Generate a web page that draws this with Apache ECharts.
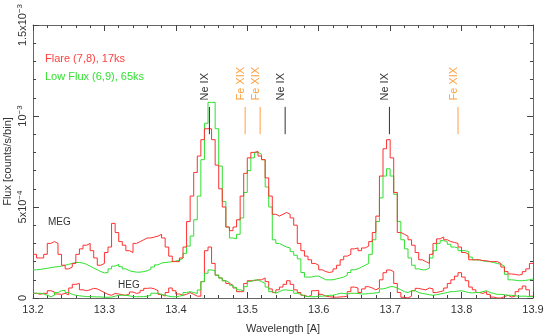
<!DOCTYPE html>
<html>
<head>
<meta charset="utf-8">
<script src="https://cdn.jsdelivr.net/npm/echarts@6/dist/echarts.min.js"></script>
<style>html,body{margin:0;padding:0;background:#fff}#c{width:545px;height:334px}</style>
</head>
<body>
<div id="c"></div>
<script>
// Wavelength grid (Angstrom): first bin start and bin width
const binStart = 13.2;
const binWidth = 0.005;
// Flux values in units of 1e-4 counts/s/bin
const megFlare = [2.4,2.2,2.2,2.4,3.0,3.1,3.0,2.4,1.8,1.6,1.7,1.9,2.4,2.7,2.9,3.0,2.6,2.2,1.8,1.9,
2.5,2.8,4.1,3.6,3.1,2.9,2.6,2.5,3.0,3.1,3.2,3.3,3.3,3.35,3.4,3.5,3.3,2.8,2.3,2.0,
2.0,2.2,2.8,4.2,5.6,6.9,7.8,8.7,9.3,9.3,8.7,7.3,6.0,5.0,3.9,3.7,3.9,4.3,5.6,6.85,
7.7,8.0,8.05,7.8,7.6,6.6,5.6,4.6,4.5,4.6,4.7,4.6,4.4,4.0,3.0,2.6,2.3,2.1,1.9,1.8,
1.55,1.45,1.4,1.45,1.6,1.8,2.1,2.3,2.4,2.7,2.75,2.6,2.75,2.85,3.1,3.6,4.5,6.7,8.2,8.7,
7.7,5.8,3.6,3.5,3.4,3.2,2.9,2.5,2.1,2.0,1.9,2.4,3.0,3.25,3.35,3.2,3.1,3.05,3.0,2.8,
2.5,2.4,2.1,2.1,2.1,2.05,2.05,2.0,2.0,2.0,1.9,1.7,1.45,1.32,1.3,1.26,1.3,1.45,1.6,1.9];
const megLow = [1.55,1.57,1.6,1.63,1.67,1.7,1.72,1.75,1.8,1.85,1.9,1.95,1.95,1.92,1.85,1.75,1.65,1.55,1.45,1.38,
1.4,1.6,1.75,1.85,1.72,1.6,1.5,1.45,1.42,1.42,1.45,1.5,1.58,1.7,1.82,1.92,1.95,1.97,2.0,2.03,
2.08,2.18,2.45,2.85,3.4,4.3,5.6,7.6,9.6,10.75,10.75,9.3,7.25,5.3,3.9,3.3,3.25,3.5,4.4,5.8,
7.0,7.7,8.0,7.9,7.6,6.1,5.0,3.2,3.0,2.9,2.8,2.75,2.55,2.35,2.15,1.4,1.15,1.15,1.2,1.2,
1.1,1.0,1.0,1.0,1.05,1.1,1.15,1.25,1.4,1.55,1.6,1.7,1.8,1.9,2.4,3.2,4.2,5.5,6.7,7.1,
6.7,5.7,4.2,3.2,2.7,2.2,1.8,1.6,1.55,1.55,1.65,2.2,2.6,3.0,3.15,3.1,2.95,2.8,2.75,2.6,
2.6,2.55,2.25,2.1,2.08,2.05,2.0,2.0,1.95,1.9,1.85,1.75,1.3,1.0,0.98,0.95,0.95,0.97,1.0,1.05];
const hegFlare = [0.26,0.2,0.26,0.25,0.4,0.33,0.22,0.2,0.25,0.18,0.55,0.75,0.8,0.45,0.4,0.45,0.53,0.5,0.4,0.3,
0.2,0.15,0.25,0.22,0.18,0.15,0.22,0.33,0.25,0.3,0.42,0.53,0.55,0.5,0.4,0.2,0.1,0.3,0.55,0.4,
0.22,0.15,0.2,0.3,0.2,0.1,0.1,0.9,2.6,2.8,1.9,1.25,1.1,0.95,0.8,0.7,0.55,0.35,0.35,0.8,
0.95,0.95,1.0,1.0,1.1,0.9,0.5,0.3,0.45,0.6,0.75,0.95,0.75,0.45,0.3,0.15,0.07,0.15,0.4,0.42,
0.2,0.1,0.07,0.05,0.04,0.06,0.07,0.1,0.35,0.6,0.55,0.3,0.5,0.62,0.55,0.45,0.55,1.0,1.39,1.54,
1.45,0.8,0.3,0.04,0.0,0.1,0.4,0.53,0.48,0.45,0.55,0.5,0.3,0.35,0.4,0.55,0.8,1.0,1.2,1.39,
1.15,0.95,0.6,0.45,0.3,0.25,0.35,0.2,0.05,0.0,0.0,0.07,0.15,0.05,0.1,0.35,0.5,0.66,0.45,0.1];
const hegLow = [0.26,0.26,0.22,0.15,0.07,0.15,0.3,0.4,0.42,0.3,0.2,0.15,0.12,0.1,0.08,0.07,0.07,0.06,0.06,0.04,
0.04,0.05,0.1,0.15,0.15,0.15,0.12,0.08,0.07,0.07,0.08,0.1,0.15,0.26,0.26,0.2,0.15,0.1,0.07,0.07,
0.1,0.15,0.3,0.35,0.3,0.25,0.44,0.9,1.36,1.54,1.5,1.26,1.1,0.95,0.85,0.7,0.59,0.45,0.4,0.62,
0.9,0.99,0.99,0.9,0.81,0.6,0.35,0.26,0.35,0.44,0.44,0.42,0.4,0.26,0.2,0.11,0.08,0.07,0.07,0.1,
0.1,0.12,0.15,0.15,0.2,0.26,0.25,0.22,0.26,0.26,0.25,0.22,0.22,0.25,0.26,0.28,0.3,0.5,0.55,0.62,
0.62,0.55,0.45,0.35,0.3,0.4,0.4,0.3,0.25,0.22,0.18,0.15,0.18,0.22,0.26,0.3,0.35,0.35,0.38,0.4,
0.35,0.3,0.28,0.3,0.3,0.35,0.4,0.3,0.25,0.2,0.2,0.18,0.15,0.15,0.12,0.1,0.1,0.1,0.08,0.07];
// Line identifications
const lineWavelengths = [13.447, 13.497, 13.518, 13.553, 13.699, 13.795];
const lineIons = ['Ne IX', 'Fe XIX', 'Fe XIX', 'Ne IX', 'Ne IX', 'Fe XIX'];
// Axis tick labels
const xTicks = [13.2, 13.3, 13.4, 13.5, 13.6, 13.7, 13.8, 13.9];
const yTickLabels = {0: '{b|0}', 5: '{b|5x10}{s|\u22124}', 10: '{b|10}{s|\u22123}', 15: '{b|1.5x10}{s|\u22123}'};

const RED = '#ff3030', GREEN = '#2fe02f', ORANGE = '#ffa040', DARK = '#333333';
const FONT = '"Liberation Sans", Arial, sans-serif';

function steps(vals) {
  const out = vals.map((v, i) => [Number((binStart + i * binWidth).toFixed(4)), v]);
  out.push([Number((binStart + vals.length * binWidth).toFixed(4)), vals[vals.length - 1]]);
  return out;
}
function stepSeries(name, vals, color, z) {
  return {name, type: 'line', step: 'end', data: steps(vals), symbol: 'none', z,
    lineStyle: {color, width: 1}, animation: false, xAxisIndex: 0, yAxisIndex: 0};
}

const tickCommon = {
  axisLine: {show: true, onZero: false, lineStyle: {color: '#666', width: 1}},
  axisTick: {show: true, inside: true, length: 6, lineStyle: {color: '#444'}},
  minorTick: {show: true, splitNumber: 5, length: 3, lineStyle: {color: '#444'}},
  splitLine: {show: false}
};

const chart = echarts.init(document.getElementById('c'), null, {renderer: 'canvas'});
chart.setOption({
  animation: false,
  backgroundColor: '#fff',
  grid: {left: 33, right: 12, top: 25, bottom: 36, containLabel: false, outerBoundsMode: 'none'},
  xAxis: [
    Object.assign({type: 'value', min: xTicks[0], max: xTicks[xTicks.length - 1], interval: 0.1, position: 'bottom',
      axisLabel: {formatter: v => v.toFixed(1), color: DARK, fontSize: 11, fontFamily: FONT, margin: 6},
      name: 'Wavelength [A]', nameLocation: 'middle', nameGap: 25, nameMoveOverlap: false,
      nameTextStyle: {color: DARK, fontSize: 11, fontFamily: FONT}}, tickCommon),
    Object.assign({type: 'value', min: xTicks[0], max: xTicks[xTicks.length - 1], interval: 0.1, position: 'top',
      axisLabel: {show: false}}, tickCommon)
  ],
  yAxis: [
    Object.assign({type: 'value', min: 0, max: 15, interval: 5, position: 'left',
      axisLabel: {rotate: 90, margin: 5, color: DARK, fontFamily: FONT,
        formatter: v => yTickLabels[v] || '',
        rich: {b: {fontSize: 11, fontFamily: FONT, color: DARK, verticalAlign: 'bottom', lineHeight: 12},
               s: {fontSize: 8, fontFamily: FONT, color: DARK, verticalAlign: 'top', lineHeight: 12}}},
      name: 'Flux [counts/s/bin]', nameLocation: 'middle', nameGap: 20, nameRotate: 90, nameMoveOverlap: false,
      nameTextStyle: {color: DARK, fontSize: 11, fontFamily: FONT}}, tickCommon),
    Object.assign({type: 'value', min: 0, max: 15, interval: 5, position: 'right',
      axisLabel: {show: false}}, tickCommon)
  ],
  series: [
    stepSeries('MEG low', megLow, GREEN, 2),
    stepSeries('MEG flare', megFlare, RED, 3),
    stepSeries('HEG flare', hegFlare, RED, 4),
    stepSeries('HEG low', hegLow, GREEN, 5),
    {
      type: 'custom', name: 'lines', xAxisIndex: 0, yAxisIndex: 0, clip: false, silent: true, z: 6,
      data: lineWavelengths.map((w, i) => [w, i]),
      renderItem: function (params, api) {
        const w = api.value(0);
        const ion = lineIons[api.value(1)];
        const col = ion === 'Fe XIX' ? ORANGE : DARK;
        const pLo = api.coord([w, 9.0]);
        const pHi = api.coord([w, 10.5]);
        const pTx = api.coord([w, 10.85]);
        return {type: 'group', children: [
          {type: 'line', shape: {x1: pLo[0], y1: pLo[1], x2: pHi[0], y2: pHi[1]},
           style: {stroke: col, lineWidth: 1}},
          {type: 'text', x: pTx[0] - 4, y: pTx[1], rotation: Math.PI / 2,
           style: {text: ion, fill: col, font: '11px ' + FONT, align: 'left', verticalAlign: 'middle'}}
        ]};
      }
    }
  ],
  graphic: [
    {type: 'text', left: 45, top: 53, style: {text: 'Flare (7,8), 17ks', fill: '#ff4040', font: '11px ' + FONT}},
    {type: 'text', left: 45, top: 71, style: {text: 'Low Flux (6,9), 65ks', fill: '#33e033', font: '11px ' + FONT}},
    {type: 'text', left: 48, top: 217, style: {text: 'MEG', fill: DARK, font: '10px ' + FONT}},
    {type: 'text', left: 118, top: 280, style: {text: 'HEG', fill: DARK, font: '10px ' + FONT}}
  ]
});
</script>
</body>
</html>
